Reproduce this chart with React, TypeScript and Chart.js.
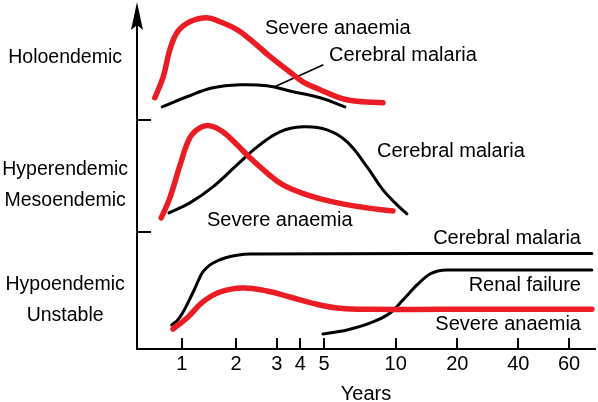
import React, { useEffect, useRef } from "react";
import { Chart, registerables } from "chart.js";

Chart.register(...registerables);

const FONT = '"Liberation Sans", Arial, Helvetica, sans-serif';

// x axis: non-uniform year scale (tick years and their axis spots)
const tickYears = [1, 2, 3, 4, 5, 10, 20, 40, 60];
const tickSpots = [0, 1, 1.75, 2.184, 2.621, 3.941, 5.075, 6.199, 7.133];

// y axis: three endemicity bands
const panelBounds = [1, 2];
const panelLabels = [["Hypoendemic", "Unstable"], ["Hyperendemic", "Mesoendemic"], ["Holoendemic"]];
const panelLabelLevels = [0.39, 1.42, 2.555];

// Holoendemic
const holoAnaemiaYears = [0.71, 0.79, 0.86, 0.95, 1.11, 1.38, 1.63, 2.02, 2.37, 2.81, 3.4, 4.1, 4.82, 5.67, 6.62, 8.84];
const holoAnaemia = [2.197, 2.385, 2.627, 2.788, 2.877, 2.913, 2.877, 2.806, 2.698, 2.564, 2.448, 2.34, 2.269, 2.206, 2.17, 2.152];
const holoCerebralYears = [0.78, 1.07, 1.49, 2.08, 2.72, 3.66, 4.82, 6.12];
const holoCerebral = [2.116, 2.206, 2.286, 2.313, 2.304, 2.251, 2.197, 2.116];
const leaderYears = [2.92, 4.95];
const leaderValues = [2.293, 2.49];

// Hyperendemic / Mesoendemic
const hyperAnaemiaYears = [0.77, 0.86, 0.98, 1.11, 1.26, 1.44, 1.69, 2.02, 2.3, 2.72, 3.24, 4.26, 5.45, 7.58, 9.74];
const hyperAnaemia = [1.123, 1.302, 1.597, 1.839, 1.928, 1.946, 1.893, 1.777, 1.66, 1.526, 1.418, 1.329, 1.266, 1.212, 1.185];
const hyperCerebralYears = [0.85, 1.11, 1.49, 2.02, 2.47, 3.12, 4.1, 5.15, 6.25, 7.58, 8.84, 10.15, 11.35];
const hyperCerebral = [1.167, 1.257, 1.4, 1.597, 1.758, 1.893, 1.937, 1.91, 1.803, 1.579, 1.373, 1.239, 1.159];

// Hypoendemic / Unstable
const hypoCerebralYears = [0.88, 0.95, 1.02, 1.09, 1.16, 1.24, 1.31, 1.43, 1.57, 1.75, 2.02, 2.3, 72];
const hypoCerebral = [0.165, 0.21, 0.283, 0.373, 0.462, 0.566, 0.64, 0.7, 0.737, 0.766, 0.789, 0.8, 0.805];
const hypoAnaemiaYears = [0.895, 1.07, 1.31, 1.63, 2.14, 2.72, 3.53, 4.51, 5.84, 8.03, 16.46, 72];
const hypoAnaemia = [0.129, 0.227, 0.371, 0.46, 0.496, 0.469, 0.415, 0.358, 0.314, 0.305, 0.305, 0.305];
const renalYears = [4.95, 6.25, 8.03, 9.47, 10.85, 12.71, 14.71, 17.81, 72];
const renal = [0.084, 0.12, 0.192, 0.272, 0.388, 0.523, 0.621, 0.657, 0.657];

// curve labels: [text, year, level, align]
const curveLabels: [string, number, number, CanvasTextAlign][] = [
  ["Severe anaemia", 2.67, 2.821, "left"],
  ["Cerebral malaria", 5.25, 2.572, "left"],
  ["Cerebral malaria", 8.35, 1.721, "left"],
  ["Severe anaemia", 1.38, 1.1, "left"],
  ["Cerebral malaria", 66, 0.935, "right"],
  ["Renal failure", 66, 0.514, "right"],
  ["Severe anaemia", 66, 0.165, "right"],
];

const RED = "#ec1c24";
const BLACK = "#000000";

function yearToPos(yr: number): number {
  const n = tickYears.length;
  let i = 0;
  while (i < n - 2 && yr > tickYears[i + 1]) i++;
  const y0 = tickYears[i], y1 = tickYears[i + 1];
  const p0 = tickSpots[i], p1 = tickSpots[i + 1];
  const t = Math.log(yr / y0) / Math.log(y1 / y0);
  return p0 + t * (p1 - p0);
}

function series(years: number[], values: number[]) {
  return years.map((yr, i) => ({ x: yearToPos(yr), y: values[i] }));
}

const decorPlugin = {
  id: "decor",
  afterDraw(chart: any) {
    const { ctx, chartArea, scales } = chart;
    const xs = scales.x;
    const ys = scales.y;
    ctx.save();
    ctx.strokeStyle = "#000";
    ctx.fillStyle = "#000";
    ctx.lineWidth = 2;
    ctx.lineCap = "butt";
    // inward tick marks on x
    xs.ticks.forEach((t: any) => {
      const px = Math.round(xs.getPixelForValue(t.value));
      ctx.beginPath();
      ctx.moveTo(px, chartArea.bottom);
      ctx.lineTo(px, chartArea.bottom - 11);
      ctx.stroke();
    });
    // band separators on y
    panelBounds.forEach((v) => {
      const py = Math.round(ys.getPixelForValue(v));
      ctx.beginPath();
      ctx.moveTo(chartArea.left, py);
      ctx.lineTo(chartArea.left + 14, py);
      ctx.stroke();
    });
    // arrow head on y axis
    const ax = chartArea.left;
    const top = chartArea.top;
    ctx.beginPath();
    ctx.moveTo(ax, top - 6);
    ctx.lineTo(ax + 6, top + 22);
    ctx.lineTo(ax, top + 17);
    ctx.lineTo(ax - 6, top + 22);
    ctx.closePath();
    ctx.fill();
    // curve labels
    ctx.font = `20px ${FONT}`;
    ctx.textBaseline = "middle";
    curveLabels.forEach(([text, yr, lv, align]) => {
      ctx.textAlign = align;
      ctx.fillText(text, xs.getPixelForValue(yearToPos(yr)), ys.getPixelForValue(lv));
    });
    ctx.restore();
  },
};

function line(data: any, color: string, width: number, mono = false) {
  return {
    data,
    borderColor: color,
    backgroundColor: color,
    borderWidth: width,
    pointRadius: 0,
    fill: false,
    tension: 0.4,
    cubicInterpolationMode: mono ? ("monotone" as const) : ("default" as const),
    borderCapStyle: "round" as const,
    borderJoinStyle: "round" as const,
  };
}

export default function App() {
  const ref = useRef<HTMLCanvasElement>(null);

  useEffect(() => {
    if (!ref.current) return;
    const chart = new Chart(ref.current, {
      type: "line",
      data: {
        datasets: [
          line(series(holoAnaemiaYears, holoAnaemia), RED, 5.5),
          line(series(hyperAnaemiaYears, hyperAnaemia), RED, 5.5),
          line(series(hypoAnaemiaYears, hypoAnaemia), RED, 5.5),
          line(series(holoCerebralYears, holoCerebral), BLACK, 3),
          line(series(hyperCerebralYears, hyperCerebral), BLACK, 3),
          line(series(hypoCerebralYears, hypoCerebral), BLACK, 3),
          line(series(renalYears, renal), BLACK, 3, true),
          { ...line(series(leaderYears, leaderValues), BLACK, 1.5), tension: 0 },
        ],
      },
      options: {
        animation: false,
        responsive: false,
        devicePixelRatio: 1,
        layout: { padding: { top: 8, right: 3, left: 0, bottom: 0 } },
        plugins: { legend: { display: false }, tooltip: { enabled: false } },
        scales: {
          x: {
            type: "linear",
            min: -0.823,
            max: 7.611,
            afterFit: (s: any) => {
              s.height = 53;
              s.paddingLeft = 0;
              s.paddingRight = 0;
            },
            afterBuildTicks: (s: any) => {
              s.ticks = tickYears.map((yr) => ({ value: yearToPos(yr) }));
            },
            ticks: {
              autoSkip: false,
              maxRotation: 0,
              padding: 3,
              color: "#000",
              font: { family: FONT, size: 20 },
              callback: (_v: any, i: number) => String(tickYears[i]),
            },
            grid: { display: false, drawTicks: false },
            border: { display: true, color: "#000", width: 2 },
            title: {
              display: true,
              text: "Years",
              color: "#000",
              font: { family: FONT, size: 20, lineHeight: 1 },
              padding: { top: 0, bottom: -2 },
            },
          },
          y: {
            type: "linear",
            min: -0.05,
            max: 3,
            afterFit: (s: any) => {
              s.width = 137;
              s.paddingTop = 0;
              s.paddingBottom = 0;
            },
            afterBuildTicks: (s: any) => {
              s.ticks = panelLabelLevels.map((v) => ({ value: v }));
            },
            ticks: {
              autoSkip: false,
              crossAlign: "center",
              padding: 9,
              color: "#000",
              font: { family: FONT, size: 19.5, lineHeight: 31 / 19.5 },
              callback: (_v: any, i: number) => panelLabels[i],
            },
            grid: { display: false, drawTicks: false },
            border: { display: true, color: "#000", width: 2 },
          },
        },
      },
      plugins: [decorPlugin],
    });
    return () => chart.destroy();
  }, []);

  return (
    <div style={{ position: "fixed", left: 0, top: 0, width: 598, height: 402, background: "#fff" }}>
      <canvas ref={ref} width={598} height={402} />
    </div>
  );
}
